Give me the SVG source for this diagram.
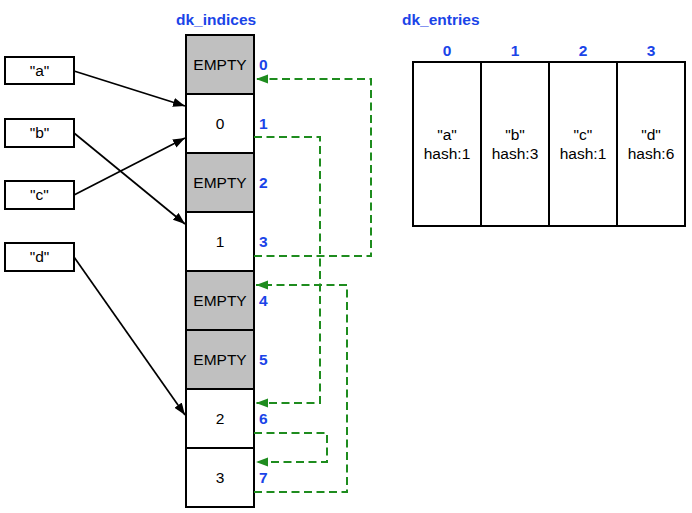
<svg xmlns="http://www.w3.org/2000/svg" width="692" height="513" viewBox="0 0 692 513">
<style>
  text { font-family: "Liberation Sans", Arial, sans-serif; }
  .t { font-size: 15.5px; fill: #000; text-anchor: middle; }
  .lbl { font-size: 15.5px; font-weight: bold; fill: #1a44e8; }
  .box { fill: #fff; stroke: #000; stroke-width: 2; }
  .empty { fill: #c0c0c0; stroke: #000; stroke-width: 2; }
  .blk { fill: none; stroke: #000; stroke-width: 1.7; marker-end: url(#ab); }
  .grn { fill: none; stroke: #1e8c1e; stroke-width: 2; stroke-dasharray: 8 4.5; marker-end: url(#ag); }
</style>
<defs>
  <marker id="ab" markerUnits="userSpaceOnUse" markerWidth="14" markerHeight="10" refX="12" refY="4.5" orient="auto">
    <path d="M0,0 L12,4.5 L0,9 z" fill="#000"/>
  </marker>
  <marker id="ag" markerUnits="userSpaceOnUse" markerWidth="14" markerHeight="10" refX="12" refY="4.5" orient="auto">
    <path d="M0,0 L12,4.5 L0,9 z" fill="#1e8c1e"/>
  </marker>
</defs>
<rect width="692" height="513" fill="#fff"/>

<text class="lbl" x="176" y="25">dk_indices</text>
<text class="lbl" x="402" y="25">dk_entries</text>

<g id="key-a"><rect class="box" x="5" y="57" width="69" height="27"/><text class="t" x="39.5" y="76">"a"</text></g>
<g id="key-b"><rect class="box" x="5" y="119" width="69" height="28"/><text class="t" x="39.5" y="138">"b"</text></g>
<g id="key-c"><rect class="box" x="5" y="181" width="69" height="28"/><text class="t" x="39.5" y="200">"c"</text></g>
<g id="key-d"><rect class="box" x="5" y="243" width="69" height="28"/><text class="t" x="39.5" y="262">"d"</text></g>

<g id="indices">
  <g id="idx0"><rect class="empty" x="186" y="35" width="68" height="59"/><text class="t" x="220" y="70">EMPTY</text><text class="lbl" x="259" y="70">0</text></g>
  <g id="idx1"><rect class="box" x="186" y="94" width="68" height="59"/><text class="t" x="220" y="129">0</text><text class="lbl" x="259" y="129">1</text></g>
  <g id="idx2"><rect class="empty" x="186" y="153" width="68" height="59"/><text class="t" x="220" y="188">EMPTY</text><text class="lbl" x="259" y="188">2</text></g>
  <g id="idx3"><rect class="box" x="186" y="212" width="68" height="59"/><text class="t" x="220" y="247">1</text><text class="lbl" x="259" y="247">3</text></g>
  <g id="idx4"><rect class="empty" x="186" y="271" width="68" height="59"/><text class="t" x="220" y="306">EMPTY</text><text class="lbl" x="259" y="306">4</text></g>
  <g id="idx5"><rect class="empty" x="186" y="330" width="68" height="59"/><text class="t" x="220" y="365">EMPTY</text><text class="lbl" x="259" y="365">5</text></g>
  <g id="idx6"><rect class="box" x="186" y="389" width="68" height="59"/><text class="t" x="220" y="424">2</text><text class="lbl" x="259" y="424">6</text></g>
  <g id="idx7"><rect class="box" x="186" y="448" width="68" height="59"/><text class="t" x="220" y="483">3</text><text class="lbl" x="259" y="483">7</text></g>
</g>

<g id="entries">
  <g id="ent0"><rect class="box" x="413" y="62" width="68" height="164"/><text class="lbl" x="447" y="56" text-anchor="middle">0</text><text class="t" x="447" y="140">"a"</text><text class="t" x="447" y="159">hash:1</text></g>
  <g id="ent1"><rect class="box" x="481" y="62" width="68" height="164"/><text class="lbl" x="515" y="56" text-anchor="middle">1</text><text class="t" x="515" y="140">"b"</text><text class="t" x="515" y="159">hash:3</text></g>
  <g id="ent2"><rect class="box" x="549" y="62" width="68" height="164"/><text class="lbl" x="583" y="56" text-anchor="middle">2</text><text class="t" x="583" y="140">"c"</text><text class="t" x="583" y="159">hash:1</text></g>
  <g id="ent3"><rect class="box" x="617" y="62" width="68" height="164"/><text class="lbl" x="651" y="56" text-anchor="middle">3</text><text class="t" x="651" y="140">"d"</text><text class="t" x="651" y="159">hash:6</text></g>
</g>

<g id="connectors">
  <path class="blk" d="M74,71 L185,106"/>
  <path class="blk" d="M74,133 L185,224"/>
  <path class="blk" d="M74,195 L185,138"/>
  <path class="blk" d="M74,257 L185,415"/>
  <path class="grn" d="M254,256 H371 V79 H256"/>
  <path class="grn" d="M254,137 H320 V403 H256"/>
  <path class="grn" d="M254,492 H347 V285 H256"/>
  <path class="grn" d="M254,433 H327 V462 H256"/>
</g>
</svg>
